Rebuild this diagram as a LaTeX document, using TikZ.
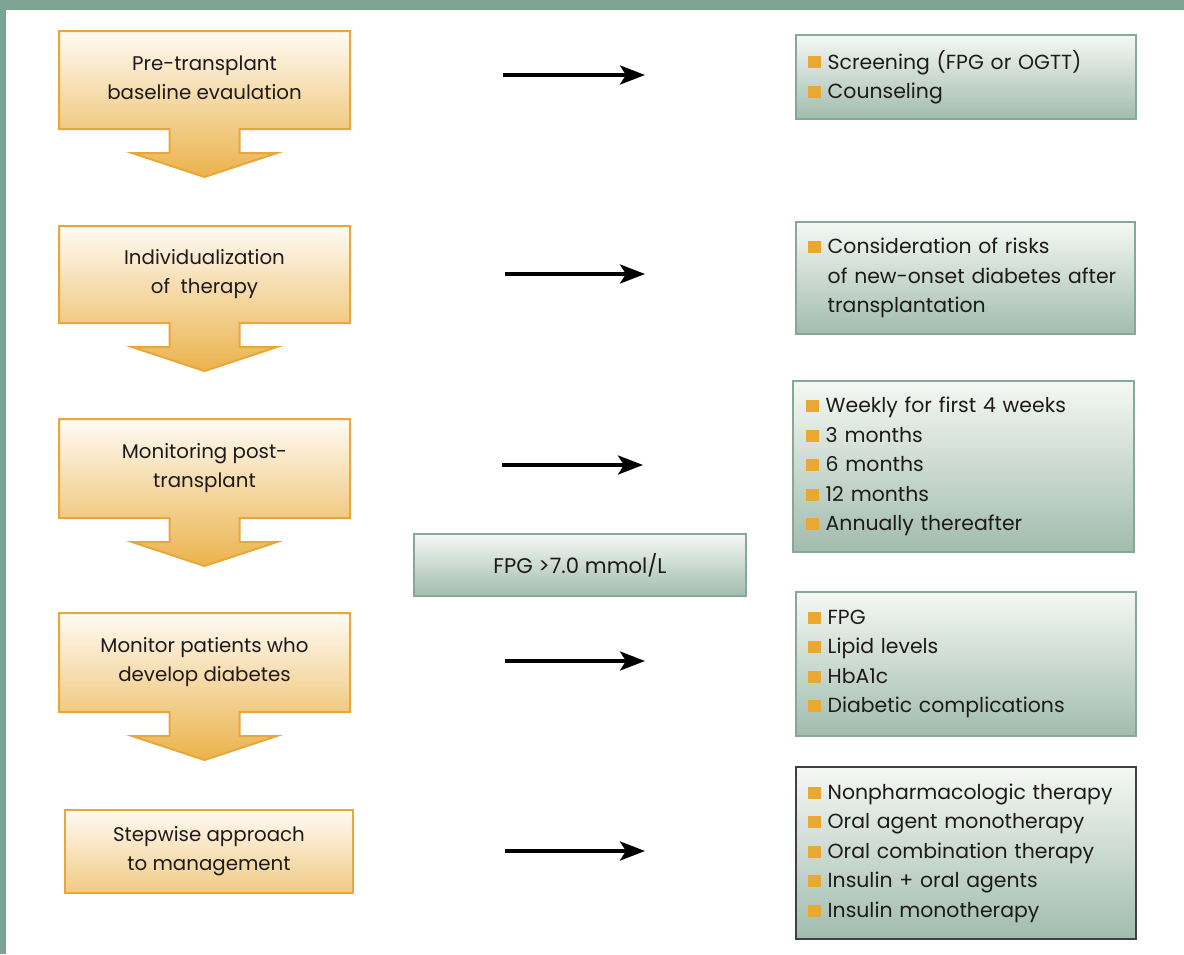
\documentclass[tikz,border=0pt]{standalone}
\usepackage{fontspec}
\setmainfont{Poppins}
\usetikzlibrary{arrows.meta,calc}
\definecolor{framec}{HTML}{7DA393}
\definecolor{obord}{HTML}{E8A73A}
\definecolor{otop}{HTML}{FFFAF3}
\definecolor{omid}{HTML}{F1CB84}
\definecolor{obot}{HTML}{EBB34C}
\definecolor{gbord}{HTML}{86A898}
\definecolor{gtop}{HTML}{F5F8F5}
\definecolor{gbot}{HTML}{A1BCAE}
\definecolor{bulc}{HTML}{E9A832}
\definecolor{txt}{HTML}{1E1A1B}
\newcommand\bul{{\color{bulc}\rule[0.3pt]{6.25pt}{6pt}}\hspace{3.6pt}}
\newcommand\nob{\hspace*{9.85pt}}
\tikzset{
  obox/.style={line width=1pt, top color=otop, bottom color=omid, draw=none,
    minimum width=144.5pt, align=center, inner sep=0pt, text=txt,
    font=\fontsize{9.9}{14.5}\selectfont},
  gbox/.style={draw=gbord, line width=1pt, top color=gtop, bottom color=gbot,
    align=left, inner xsep=6pt, inner ysep=0pt, text=txt,
    font=\fontsize{10.2}{14.75}\selectfont},
  blk/.style={line width=1.8pt, -{Stealth[length=12.5pt,width=9.5pt,inset=3pt]}},
}
\newcommand\stepdown[1]{%
  \path[top color=omid, bottom color=obot]
    ($(#1.south)+(-35,-1)$) -- ($(#1.south)+(35,-1)$) -- ($(#1.south)+(35,24)$)
    -- ($(#1.south)+(72.5,24)$) -- ($(#1.south)+(0,48)$) -- ($(#1.south)+(-72.5,24)$)
    -- ($(#1.south)+(-35,24)$) -- cycle;
  \draw[obord, line width=1pt, line join=miter]
    ($(#1.south)+(-35,0)$) -- (#1.south west) -- (#1.north west) -- (#1.north east)
    -- (#1.south east) -- ($(#1.south)+(35,0)$) -- ($(#1.south)+(35,24)$)
    -- ($(#1.south)+(72.5,24)$) -- ($(#1.south)+(0,48)$) -- ($(#1.south)+(-72.5,24)$)
    -- ($(#1.south)+(-35,24)$) -- cycle;}
\begin{document}
\begin{tikzpicture}[x=0.5pt,y=-0.5pt]
\useasboundingbox (0,0) rectangle (1184,954);
\fill[white] (0,0) rectangle (1184,954);
\fill[framec] (0,0) rectangle (1184,10);
\fill[framec] (0,0) rectangle (6,954);

% orange steps
\node[obox, minimum height=48pt] (o1) at (204.5,80) {Pre-transplant\\baseline evaulation\vphantom{q}};
\node[obox, minimum height=47.5pt] (o2) at (204.5,274.5) {Individualization\\of\ \ therapy};
\node[obox, minimum height=48.5pt] (o3) at (204.5,468.5) {Monitoring post-\\transplant};
\node[obox, minimum height=48.5pt] (o4) at (204.5,662.5) {Monitor patients who\\develop diabetes};
\node[obox, minimum height=41.5pt, minimum width=144pt, draw=obord] (o5) at (209,851.5) {Stepwise approach\\to management};
\stepdown{o1}
\stepdown{o2}
\stepdown{o3}
\stepdown{o4}

% green boxes
\node[gbox, text width=158pt, minimum height=42pt] (g1) at (966,77)
  {\bul Screening (FPG or OGTT)\\\bul Counseling};
\node[gbox, text width=157.5pt, minimum height=56pt] (g2) at (965.5,278)
  {\bul Consideration of risks\\\nob of new-onset diabetes after\\\nob transplantation};
\node[gbox, text width=157.5pt, minimum height=85.5pt, inner xsep=6.5pt] (g3) at (963.5,466.5)
  {\bul Weekly for first 4 weeks\\\bul 3 months\\\bul 6 months\\\bul 12 months\\\bul Annually thereafter};
\node[gbox, text width=158pt, minimum height=72pt] (g4) at (966,664)
  {\bul FPG\\\bul Lipid levels\\\bul HbA1c\\\bul Diabetic complications};
\node[gbox, draw=black!75, text width=158pt, minimum height=86pt] (g5) at (966,853)
  {\bul Nonpharmacologic therapy\\\bul Oral agent monotherapy\\\bul Oral combination therapy\\\bul Insulin + oral agents\\\bul Insulin monotherapy};
\node[gbox, align=center, minimum width=166pt, minimum height=31pt,
  font=\fontsize{10.6}{14.75}\selectfont] (fpg) at (580,565)
  {FPG >7.0 mmol/L};

% black arrows
\coordinate (a1s) at (503,75);  \coordinate (a1e) at (645,75);
\coordinate (a2s) at (505,274); \coordinate (a2e) at (645,274);
\coordinate (a3s) at (502,465); \coordinate (a3e) at (643,465);
\coordinate (a4s) at (505,661); \coordinate (a4e) at (645,661);
\coordinate (a5s) at (505,851); \coordinate (a5e) at (645,851);
\draw[blk] (a1s) -- (a1e);
\draw[blk] (a2s) -- (a2e);
\draw[blk] (a3s) -- (a3e);
\draw[blk] (a4s) -- (a4e);
\draw[blk] (a5s) -- (a5e);
\end{tikzpicture}
\end{document}
